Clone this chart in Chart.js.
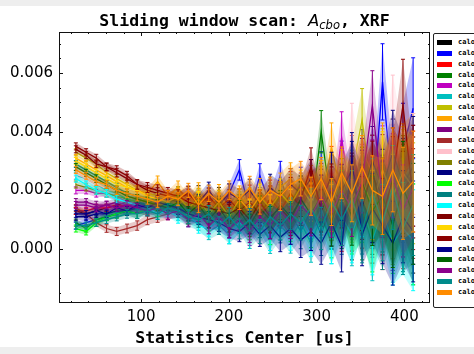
<!DOCTYPE html>
<html>
<head>
<meta charset="utf-8">
<script src="https://cdn.jsdelivr.net/npm/chart.js@4.4.1/dist/chart.umd.min.js"></script>
<style>
  html, body { margin: 0; padding: 0; width: 474px; height: 354px; overflow: hidden; background: #eeeeee; }
  #fig { position: absolute; left: 0; top: 6px; width: 474px; height: 341px; background: #ffffff; }
  #c { position: absolute; left: 0; top: 0; }
  #title { position: absolute; left: 0; top: 11px; width: 489px; text-align: center; line-height: 1;
           font: bold 16.5px 'DejaVu Sans Mono', monospace; color: #000; white-space: nowrap; }
  #title .m { font: italic 16.5px 'DejaVu Sans', sans-serif; }
  #title sub { font: italic 11.5px 'DejaVu Sans', sans-serif; vertical-align: -3px; line-height: 1; }
  #xlabel { position: absolute; left: 0; top: 328px; width: 489px; text-align: center; line-height: 1;
            font: bold 16.5px 'DejaVu Sans Mono', monospace; color: #000; white-space: nowrap; }
  #legend { position: absolute; left: 433px; top: 33px; width: 60px; height: 273px; border: 1px solid #222;
            border-radius: 2px; background: #fff; }
  .sw { position: absolute; left: 3px; width: 15px; height: 5px; }
  .lt { position: absolute; left: 24px; font: bold 7px 'DejaVu Sans Mono', monospace; line-height: 7px; color: #000; white-space: nowrap; }
</style>
</head>
<body>
<div id="fig"></div>
<canvas id="c" width="474" height="354"></canvas>
<div id="title">Sliding window scan: <span class="m">A</span><sub>cbo</sub>, XRF</div>
<div id="xlabel">Statistics Center [us]</div>
<div id="legend"></div>
<script>
// ---- data ----
const xCenters = [25.6, 37.3, 48.9, 60.6, 72.2, 83.9, 95.5, 107.2, 118.8, 130.5, 142.1, 153.8, 165.4, 177.1, 188.7, 200.4, 212.0, 223.7, 235.3, 247.0, 258.6, 270.3, 281.9, 293.6, 305.2, 316.9, 328.5, 340.2, 351.8, 363.5, 375.1, 386.8, 398.4, 410.0];
const errors = [0.00012, 0.00012, 0.00013, 0.00013, 0.00014, 0.00015, 0.00016, 0.00017, 0.00019, 0.0002, 0.00022, 0.00024, 0.00026, 0.00028, 0.0003, 0.00032, 0.00035, 0.00038, 0.00041, 0.00045, 0.00049, 0.00054, 0.00059, 0.00065, 0.00072, 0.0008, 0.00088, 0.00097, 0.00107, 0.00118, 0.0013, 0.00143, 0.00157, 0.00172];

const calo1  = [0.0013,0.0012,0.0013,0.0014,0.0015,0.0016,0.0017,0.0016,0.0018,0.0017,0.0019,0.0014,0.0019,0.0013,0.0018,0.0012,0.0017,0.0011,0.0016,0.0010,0.0015,0.0009,0.0018,0.0011,0.0020,0.0008,0.0022,0.0006,0.0024,0.0010,0.0021,0.0007,0.0018,0.0009];
const calo2  = [0.0008,0.0009,0.0010,0.0011,0.0012,0.0013,0.0012,0.0014,0.0013,0.0015,0.0014,0.0017,0.0013,0.0018,0.0012,0.0019,0.0027,0.0013,0.0025,0.0015,0.0025,0.0012,0.0022,0.0010,0.0026,0.0008,0.0028,0.0015,0.0030,0.0012,0.0057,0.0018,0.0034,0.0048];
const calo3  = [0.0013,0.0013,0.0014,0.0014,0.0015,0.0015,0.0016,0.0015,0.0016,0.0017,0.0016,0.0018,0.0013,0.0017,0.0011,0.0016,0.0010,0.0018,0.0009,0.0019,0.0011,0.0021,0.0013,0.0024,0.0012,0.0027,0.0008,0.0029,0.0011,0.0025,0.0006,0.0028,0.0009,0.0023];
const calo4  = [0.0009,0.0007,0.0010,0.0011,0.0012,0.0013,0.0014,0.0013,0.0015,0.0014,0.0017,0.0012,0.0016,0.0010,0.0015,0.0009,0.0014,0.0007,0.0015,0.0006,0.0017,0.0009,0.0019,0.0012,0.0040,0.0014,0.0009,0.0024,0.0007,0.0027,0.0012,0.0030,0.0008,0.0021];
const calo5  = [0.0020,0.0020,0.0019,0.0019,0.0018,0.0016,0.0015,0.0014,0.0013,0.0012,0.0014,0.0010,0.0013,0.0008,0.0012,0.0007,0.0011,0.0005,0.0010,0.0004,0.0012,0.0007,0.0015,0.0009,0.0018,0.0011,0.0038,0.0013,0.0025,0.0009,0.0029,0.0007,0.0024,0.0012];
const calo6  = [0.0025,0.0024,0.0022,0.0020,0.0019,0.0017,0.0016,0.0015,0.0014,0.0013,0.0012,0.0010,0.0009,0.0006,0.0008,0.0005,0.0009,0.0004,0.0008,0.0003,0.0008,0.0004,0.0009,0.0002,0.0011,0.0003,0.0013,0.0004,0.0016,0.0001,0.0019,0.0003,0.0014,0.0005];
const calo7  = [0.0033,0.0031,0.0029,0.0026,0.0024,0.0022,0.0020,0.0019,0.0018,0.0017,0.0019,0.0015,0.0018,0.0013,0.0017,0.0012,0.0016,0.0017,0.0013,0.0018,0.0014,0.0020,0.0015,0.0022,0.0016,0.0024,0.0017,0.0026,0.0044,0.0018,0.0028,0.0014,0.0025,0.0019];
const calo8  = [0.0031,0.0029,0.0027,0.0025,0.0023,0.0021,0.0020,0.0019,0.0023,0.0018,0.0021,0.0016,0.0020,0.0014,0.0019,0.0013,0.0018,0.0015,0.0020,0.0013,0.0021,0.0024,0.0017,0.0022,0.0015,0.0035,0.0018,0.0025,0.0027,0.0015,0.0030,0.0018,0.0027,0.0029];
const calo9  = [0.0016,0.0016,0.0015,0.0015,0.0016,0.0015,0.0014,0.0015,0.0014,0.0016,0.0015,0.0013,0.0012,0.0015,0.0011,0.0014,0.0010,0.0013,0.0011,0.0015,0.0012,0.0016,0.0017,0.0020,0.0022,0.0012,0.0025,0.0014,0.0027,0.0020,0.0017,0.0030,0.0013,0.0025];
const calo10 = [0.0014,0.0012,0.0009,0.0007,0.0006,0.0007,0.0008,0.0010,0.0011,0.0012,0.0013,0.0011,0.0015,0.0012,0.0016,0.0010,0.0015,0.0009,0.0016,0.0012,0.0018,0.0013,0.0020,0.0014,0.0023,0.0011,0.0019,0.0009,0.0022,0.0007,0.0026,0.0011,0.0021,0.0014];
const calo11 = [0.0026,0.0024,0.0022,0.0021,0.0020,0.0019,0.0018,0.0017,0.0016,0.0017,0.0015,0.0017,0.0013,0.0016,0.0011,0.0014,0.0010,0.0013,0.0009,0.0015,0.0011,0.0016,0.0012,0.0018,0.0013,0.0020,0.0015,0.0040,0.0019,0.0027,0.0016,0.0045,0.0024,0.0029];
const calo12 = [0.0022,0.0021,0.0020,0.0019,0.0018,0.0017,0.0016,0.0017,0.0015,0.0016,0.0014,0.0016,0.0012,0.0015,0.0011,0.0014,0.0015,0.0010,0.0016,0.0012,0.0018,0.0013,0.0019,0.0014,0.0021,0.0011,0.0022,0.0012,0.0024,0.0013,0.0019,0.0009,0.0023,0.0015];
const calo13 = [0.0011,0.0011,0.0012,0.0012,0.0013,0.0013,0.0014,0.0015,0.0014,0.0016,0.0017,0.0019,0.0016,0.0020,0.0015,0.0019,0.0017,0.0020,0.0015,0.0021,0.0018,0.0022,0.0019,0.0024,0.0016,0.0025,0.0020,0.0027,0.0018,0.0030,0.0021,0.0033,0.0022,0.0028];
const calo14 = [0.0007,0.0006,0.0009,0.0011,0.0012,0.0013,0.0012,0.0014,0.0013,0.0015,0.0015,0.0011,0.0014,0.0009,0.0013,0.0008,0.0012,0.0007,0.0013,0.0006,0.0014,0.0008,0.0012,0.0007,0.0016,0.0005,0.0018,0.0008,0.0013,0.0004,0.0017,0.0006,0.0015,0.0005];
const calo15 = [0.0029,0.0027,0.0025,0.0023,0.0021,0.0019,0.0018,0.0017,0.0016,0.0015,0.0013,0.0014,0.0011,0.0013,0.0010,0.0012,0.0009,0.0011,0.0008,0.0010,0.0007,0.0012,0.0006,0.0013,0.0005,0.0015,0.0007,0.0017,0.0009,0.0013,0.0006,0.0018,0.0008,0.0012];
const calo16 = [0.0024,0.0022,0.0020,0.0019,0.0017,0.0016,0.0015,0.0014,0.0012,0.0013,0.0011,0.0012,0.0008,0.0007,0.0010,0.0005,0.0009,0.0006,0.0010,0.0004,0.0011,0.0005,0.0012,0.0004,0.0014,0.0003,0.0011,0.0005,0.0015,0.0003,0.0013,0.0002,0.0007,0.0003];
const calo17 = [0.0034,0.0032,0.0029,0.0028,0.0026,0.0024,0.0022,0.0020,0.0019,0.0018,0.0017,0.0019,0.0015,0.0018,0.0014,0.0017,0.0013,0.0016,0.0012,0.0017,0.0013,0.0019,0.0014,0.0020,0.0015,0.0021,0.0016,0.0023,0.0017,0.0025,0.0018,0.0027,0.0020,0.0025];
const calo18 = [0.0030,0.0028,0.0026,0.0024,0.0022,0.0021,0.0020,0.0018,0.0017,0.0016,0.0018,0.0014,0.0017,0.0012,0.0016,0.0011,0.0017,0.0013,0.0018,0.0014,0.0019,0.0015,0.0021,0.0016,0.0023,0.0014,0.0025,0.0017,0.0023,0.0015,0.0027,0.0018,0.0026,0.0021];
const calo19 = [0.0035,0.0033,0.0031,0.0028,0.0027,0.0025,0.0022,0.0021,0.0020,0.0019,0.0018,0.0016,0.0015,0.0014,0.0013,0.0012,0.0014,0.0010,0.0016,0.0011,0.0014,0.0010,0.0017,0.0028,0.0013,0.0020,0.0010,0.0022,0.0014,0.0027,0.0011,0.0024,0.0049,0.0017];
const calo20 = [0.0012,0.0012,0.0013,0.0012,0.0014,0.0013,0.0015,0.0014,0.0016,0.0015,0.0014,0.0012,0.0011,0.0010,0.0009,0.0007,0.0006,0.0009,0.0005,0.0008,0.0004,0.0007,0.0003,0.0006,0.0002,0.0009,0.0001,0.0030,0.0005,0.0014,0.0008,0.0002,0.0011,0.0006];
const calo21 = [0.0028,0.0026,0.0024,0.0022,0.0020,0.0018,0.0017,0.0016,0.0015,0.0014,0.0016,0.0012,0.0015,0.0010,0.0014,0.0009,0.0013,0.0008,0.0014,0.0010,0.0015,0.0011,0.0017,0.0012,0.0018,0.0009,0.0020,0.0011,0.0023,0.0013,0.0018,0.0008,0.0021,0.0012];
const calo22 = [0.0015,0.0015,0.0014,0.0015,0.0014,0.0015,0.0014,0.0013,0.0014,0.0012,0.0013,0.0010,0.0012,0.0008,0.0011,0.0007,0.0010,0.0006,0.0011,0.0008,0.0013,0.0009,0.0015,0.0011,0.0018,0.0012,0.0020,0.0014,0.0023,0.0049,0.0017,0.0025,0.0013,0.0021];
const calo23 = [0.0008,0.0008,0.0009,0.0010,0.0011,0.0012,0.0012,0.0013,0.0012,0.0014,0.0013,0.0011,0.0010,0.0012,0.0008,0.0011,0.0007,0.0010,0.0006,0.0011,0.0008,0.0012,0.0009,0.0014,0.0007,0.0016,0.0010,0.0017,0.0006,0.0019,0.0009,0.0021,0.0007,0.0015];
const calo24 = [0.0027,0.0025,0.0023,0.0022,0.0020,0.0019,0.0018,0.0017,0.0016,0.0018,0.0017,0.0020,0.0015,0.0019,0.0016,0.0020,0.0017,0.0021,0.0016,0.0020,0.0018,0.0022,0.0024,0.0018,0.0024,0.0016,0.0026,0.0019,0.0028,0.0020,0.0018,0.0027,0.0019,0.0023];

const seriesValues = [calo1, calo2, calo3, calo4, calo5, calo6, calo7, calo8, calo9, calo10, calo11, calo12,
                      calo13, calo14, calo15, calo16, calo17, calo18, calo19, calo20, calo21, calo22, calo23, calo24];
const seriesLabels = ['calo 1','calo 2','calo 3','calo 4','calo 5','calo 6','calo 7','calo 8','calo 9','calo 10','calo 11','calo 12',
                      'calo 13','calo 14','calo 15','calo 16','calo 17','calo 18','calo 19','calo 20','calo 21','calo 22','calo 23','calo 24'];
const seriesColors = ['#000000','#0000ff','#ff0000','#008000','#bf00bf','#00bfbf','#bfbf00','#ffa500','#800080','#a52a2a','#ffc0cb','#808000',
                      '#000080','#00ff00','#008080','#00ffff','#800000','#ffd700','#8b0000','#00008b','#006400','#8b008b','#008b8b','#ff8c00'];

const xTicks = [100, 200, 300, 400];
const xMinorTicks = [20, 40, 60, 80, 120, 140, 160, 180, 220, 240, 260, 280, 320, 340, 360, 380, 420];
const yTicks = [0.000, 0.002, 0.004, 0.006];
const yMinorTicks = [-0.0015, -0.001, -0.0005, 0.0005, 0.001, 0.0015, 0.0025, 0.003, 0.0035, 0.0045, 0.005, 0.0055, 0.0065, 0.007];

// ---- helpers ----
function rgba(hex, a) {
  const n = parseInt(hex.slice(1), 16);
  return `rgba(${(n >> 16) & 255},${(n >> 8) & 255},${n & 255},${a})`;
}

// ---- legend (HTML) ----
const leg = document.getElementById('legend');
seriesLabels.forEach((lab, i) => {
  const yc = 8.5 + i * 10.87;
  const sw = document.createElement('div');
  sw.className = 'sw';
  sw.style.top = (yc - 2.5) + 'px';
  sw.style.background = seriesColors[i];
  leg.appendChild(sw);
  const t = document.createElement('div');
  t.className = 'lt';
  t.style.top = (yc - 3.5) + 'px';
  t.textContent = lab;
  leg.appendChild(t);
});

// ---- datasets ----
const datasets = [];
seriesValues.forEach((vals, i) => {
  const col = seriesColors[i];
  datasets.push({
    label: seriesLabels[i] + ' upper',
    data: xCenters.map((x, j) => ({ x, y: vals[j] + errors[j] })),
    borderWidth: 0, pointRadius: 0, backgroundColor: rgba(col, 0.25),
    fill: '+1', order: 100 - 3 * i
  });
  datasets.push({
    label: seriesLabels[i] + ' lower',
    data: xCenters.map((x, j) => ({ x, y: vals[j] - errors[j] })),
    borderWidth: 0, pointRadius: 0, fill: false, order: 99 - 3 * i
  });
  datasets.push({
    label: seriesLabels[i],
    data: xCenters.map((x, j) => ({ x, y: vals[j] })),
    errors: errors,
    borderColor: col, borderWidth: 1.3, pointRadius: 0, fill: false,
    order: 98 - 3 * i
  });
});

// error bars with caps
const errorBars = {
  id: 'errorBars',
  afterDatasetDraw(chart, args) {
    const ds = chart.data.datasets[args.index];
    if (!ds.errors) return;
    const { ctx, chartArea: a } = chart;
    const ys = chart.scales.y;
    ctx.save();
    ctx.beginPath();
    ctx.rect(a.left, a.top, a.right - a.left, a.bottom - a.top);
    ctx.clip();
    ctx.strokeStyle = ds.borderColor;
    ctx.lineWidth = 1;
    args.meta.data.forEach((pt, j) => {
      const v = ds.data[j].y, e = ds.errors[j];
      const yt = ys.getPixelForValue(v + e), yb = ys.getPixelForValue(v - e);
      const px = pt.x;
      ctx.beginPath();
      ctx.moveTo(px, yt); ctx.lineTo(px, yb);
      ctx.moveTo(px - 2, yt); ctx.lineTo(px + 2, yt);
      ctx.moveTo(px - 2, yb); ctx.lineTo(px + 2, yb);
      ctx.stroke();
    });
    ctx.restore();
  }
};

// frame + inward ticks on all sides
const frameTicks = {
  id: 'frameTicks',
  afterDatasetsDraw(chart) {
    const { ctx, chartArea: a, scales: { x, y } } = chart;
    ctx.save();
    ctx.strokeStyle = '#111';
    ctx.lineWidth = 1;
    ctx.strokeRect(a.left + 0.5, a.top + 0.5, a.right - a.left - 1, a.bottom - a.top - 1);
    const tickX = (v, len) => {
      const p = Math.round(x.getPixelForValue(v)) + 0.5;
      ctx.beginPath();
      ctx.moveTo(p, a.bottom); ctx.lineTo(p, a.bottom - len);
      ctx.moveTo(p, a.top); ctx.lineTo(p, a.top + len);
      ctx.stroke();
    };
    const tickY = (v, len) => {
      const p = Math.round(y.getPixelForValue(v)) + 0.5;
      ctx.beginPath();
      ctx.moveTo(a.left, p); ctx.lineTo(a.left + len, p);
      ctx.moveTo(a.right, p); ctx.lineTo(a.right - len, p);
      ctx.stroke();
    };
    xTicks.forEach(v => tickX(v, 4));
    xMinorTicks.forEach(v => tickX(v, 2));
    yTicks.forEach(v => tickY(v, 4));
    yMinorTicks.forEach(v => tickY(v, 2));
    ctx.restore();
  }
};

new Chart(document.getElementById('c'), {
  type: 'line',
  data: { datasets },
  options: {
    responsive: false,
    animation: false,
    devicePixelRatio: 1,
    events: [],
    layout: { padding: { left: 0, right: 44, top: 32, bottom: 0 } },
    plugins: {
      legend: { display: false },
      tooltip: { enabled: false },
      title: { display: false },
      filler: { propagate: false, drawTime: 'beforeDatasetDraw' }
    },
    elements: { line: { tension: 0 } },
    scales: {
      x: {
        type: 'linear', min: 6.4, max: 429.2,
        afterFit(s) { s.height = 51; },
        afterBuildTicks(s) { s.ticks = xTicks.map(v => ({ value: v })); },
        grid: { display: false, drawTicks: false },
        border: { display: false },
        ticks: { color: '#000', padding: 5, maxRotation: 0, autoSkip: false,
                 font: { family: 'DejaVu Sans', size: 15 }, callback: v => String(v) }
      },
      y: {
        type: 'linear', min: -0.00184, max: 0.0074,
        afterFit(s) { s.width = 59; },
        afterBuildTicks(s) { s.ticks = yTicks.map(v => ({ value: v })); },
        grid: { display: false, drawTicks: false },
        border: { display: false },
        ticks: { color: '#000', padding: 6, autoSkip: false,
                 font: { family: 'DejaVu Sans', size: 15 }, callback: v => Number(v).toFixed(3) }
      }
    }
  },
  plugins: [errorBars, frameTicks]
});
</script>
</body>
</html>
